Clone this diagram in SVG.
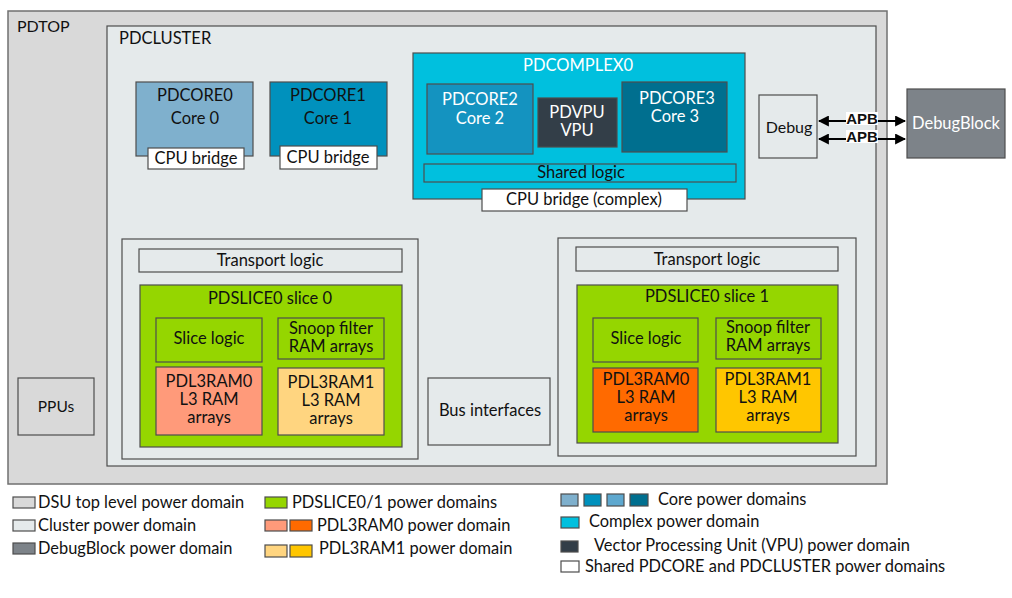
<svg xmlns="http://www.w3.org/2000/svg" width="1012" height="598" viewBox="0 0 1012 598">
<defs>
<marker id="ah" viewBox="0 0 10 10" refX="9" refY="5" markerWidth="5" markerHeight="5" orient="auto-start-reverse" markerUnits="strokeWidth">
<path d="M0,0 L10,5 L0,10 z" fill="#000"/>
</marker>
</defs>
<style>
text{font-family:Lato,"Open Sans","Liberation Sans",sans-serif;fill:#111;}
.b{stroke:#4d4d4d;stroke-width:1.2;}
.c{text-anchor:middle;}
.t16{font-size:16.5px;}
.t15{font-size:16.5px;}
.w{fill:#fff;}
.lg{font-size:16.4px;}
.apb{font-family:"Liberation Sans",Arial,sans-serif;font-weight:bold;font-size:15px;text-anchor:middle;}
</style>
<rect width="1012" height="598" fill="#fff"/>
<g id="pdtop"><rect x="8" y="11" width="879" height="473" fill="#d9d9d9" stroke="#707070" stroke-width="1.5"/><text x="17" y="32" style="font-size:16px">PDTOP</text></g>
<g id="pdcluster"><rect x="107" y="26" width="769" height="440" fill="#e5eaeb" class="b"/><text x="119" y="44" class="t16">PDCLUSTER</text></g>
<g id="pdcore0"><rect x="136" y="82" width="117" height="74" fill="#7fb0cd" class="b"/><text x="195" y="101" class="c t16">PDCORE0</text><text x="195" y="124" class="c t16">Core 0</text>
<rect x="148" y="148" width="96" height="21" fill="#fff" class="b"/><text x="196" y="164" class="c t15">CPU bridge</text></g>
<g id="pdcore1"><rect x="270" y="82" width="117" height="74" fill="#0091bd" class="b"/><text x="328" y="101" class="c t16">PDCORE1</text><text x="328" y="124" class="c t16">Core 1</text>
<rect x="280" y="146" width="97" height="23" fill="#fff" class="b"/><text x="328" y="163" class="c t15">CPU bridge</text></g>
<g id="pdcomplex0"><rect x="413" y="53" width="332" height="146" fill="#00c0de" class="b"/><text x="578" y="71" class="c t16 w">PDCOMPLEX0</text>
<rect x="424" y="164" width="312" height="18" fill="#00c0de" class="b"/><text x="581" y="178" class="c t16">Shared logic</text>
<rect x="482" y="189" width="205" height="22" fill="#fff" class="b"/><text x="584" y="205" class="c t16">CPU bridge (complex)</text></g>
<g id="pdcore2"><rect x="427" y="84" width="106" height="70" fill="#1493c0" class="b"/><text x="480" y="105" class="c t16 w">PDCORE2</text><text x="480" y="124" class="c t16 w">Core 2</text></g>
<g id="pdvpu"><rect x="538" y="98" width="79" height="49" fill="#333e48" class="b"/><text x="577" y="118" class="c t16 w">PDVPU</text><text x="577" y="136" class="c t16 w">VPU</text></g>
<g id="pdcore3"><rect x="622" y="82" width="105" height="70" fill="#006f8f" class="b"/><text x="677" y="104" class="c t16 w">PDCORE3</text><text x="675" y="122" class="c t16 w">Core 3</text></g>
<g id="debug"><rect x="759" y="95" width="58" height="63" fill="#e5eaeb" class="b"/><text x="789" y="133" class="c" style="font-size:16px">Debug</text></g>
<g id="debugblock"><rect x="907" y="89" width="98" height="69" fill="#7d8389" class="b"/><text x="956" y="129" class="c t16 w">DebugBlock</text></g>
<g id="connectors">
<line x1="819" y1="121" x2="905" y2="121" stroke="#000" stroke-width="2.2" marker-start="url(#ah)" marker-end="url(#ah)"/>
<line x1="819" y1="139" x2="905" y2="139" stroke="#000" stroke-width="2.2" marker-start="url(#ah)" marker-end="url(#ah)"/>
<rect x="846" y="112" width="32" height="13" fill="#fff"/><text x="862" y="124" class="apb">APB</text>
<rect x="846" y="130" width="32" height="13" fill="#fff"/><text x="862" y="142" class="apb">APB</text>
</g>
<g id="slice0">
<rect x="122" y="239" width="296" height="220" fill="#e5eaeb" class="b"/>
<rect x="139" y="249" width="263" height="23" fill="#e5eaeb" class="b"/><text x="270" y="266" class="c t15">Transport logic</text>
<rect x="140" y="285" width="262" height="162" fill="#95d600" class="b"/><text x="270" y="304" class="c t16">PDSLICE0 slice 0</text>
<rect x="156" y="318" width="106" height="44" fill="#95d600" class="b"/><text x="209" y="344" class="c t16">Slice logic</text>
<rect x="278" y="318" width="106" height="41" fill="#95d600" class="b"/><text x="331" y="334" class="c t16">Snoop filter</text><text x="331" y="352" class="c t16">RAM arrays</text>
<rect x="156" y="367" width="106" height="68" fill="#ff9a7a" class="b"/><text x="209" y="387" class="c t16">PDL3RAM0</text><text x="209" y="405" class="c t16">L3 RAM</text><text x="209" y="423" class="c t16">arrays</text>
<rect x="278" y="368" width="106" height="67" fill="#ffd580" class="b"/><text x="331" y="388" class="c t16">PDL3RAM1</text><text x="331" y="406" class="c t16">L3 RAM</text><text x="331" y="424" class="c t16">arrays</text>
</g>
<g id="slice1">
<rect x="558" y="238" width="298" height="218" fill="#e5eaeb" class="b"/>
<rect x="576" y="247" width="262" height="24" fill="#e5eaeb" class="b"/><text x="707" y="265" class="c t15">Transport logic</text>
<rect x="577" y="285" width="261" height="158" fill="#95d600" class="b"/><text x="707" y="302" class="c t16">PDSLICE0 slice 1</text>
<rect x="593" y="318" width="105" height="44" fill="#95d600" class="b"/><text x="646" y="344" class="c t16">Slice logic</text>
<rect x="716" y="318" width="105" height="41" fill="#95d600" class="b"/><text x="768" y="333" class="c t16">Snoop filter</text><text x="768" y="351" class="c t16">RAM arrays</text>
<rect x="593" y="368" width="105" height="64" fill="#ff6a00" class="b"/><text x="646" y="385" class="c t16">PDL3RAM0</text><text x="646" y="403" class="c t16">L3 RAM</text><text x="646" y="421" class="c t16">arrays</text>
<rect x="716" y="368" width="105" height="64" fill="#ffc600" class="b"/><text x="768" y="385" class="c t16">PDL3RAM1</text><text x="768" y="403" class="c t16">L3 RAM</text><text x="768" y="421" class="c t16">arrays</text>
</g>
<g id="ppus"><rect x="18" y="378" width="76" height="57" fill="#d9d9d9" class="b"/><text x="56" y="412" class="c" style="font-size:15.5px">PPUs</text></g>
<g id="bus"><rect x="428" y="378" width="122" height="67" fill="#e5eaeb" class="b"/><text x="490" y="416" class="c t15">Bus interfaces</text></g>
<g id="legend">
<rect x="13" y="497" width="22" height="11" fill="#d9d9d9" class="b"/><text x="38" y="508" class="lg">DSU top level power domain</text>
<rect x="13" y="520" width="22" height="11" fill="#e5eaeb" class="b"/><text x="38" y="531" class="lg">Cluster power domain</text>
<rect x="13" y="543" width="22" height="11" fill="#7d8389" class="b"/><text x="38" y="554" class="lg">DebugBlock power domain</text>
<rect x="265" y="497" width="22" height="11" fill="#95d600" class="b"/><text x="292" y="508" class="lg">PDSLICE0/1 power domains</text>
<rect x="265" y="520" width="22" height="11" fill="#ff9a7a" class="b"/><rect x="290" y="520" width="22" height="11" fill="#ff6a00" class="b"/><text x="317" y="531" class="lg">PDL3RAM0 power domain</text>
<rect x="265" y="545" width="22" height="12" fill="#ffd580" class="b"/><rect x="290" y="545" width="22" height="12" fill="#ffc600" class="b"/><text x="319" y="554" class="lg">PDL3RAM1 power domain</text>
<rect x="561" y="494" width="17" height="12" fill="#7fb0cd" class="b"/><rect x="584" y="494" width="17" height="12" fill="#0091bd" class="b"/><rect x="607" y="494" width="17" height="12" fill="#5ea8cf" class="b"/><rect x="630" y="494" width="18" height="12" fill="#006f8f" class="b"/><text x="658" y="505" class="lg">Core power domains</text>
<rect x="561" y="517" width="18" height="11" fill="#00c0de" class="b"/><text x="589" y="527" class="lg">Complex power domain</text>
<rect x="561" y="541" width="17" height="11" fill="#333e48" class="b"/><text x="594" y="551" class="lg">Vector Processing Unit (VPU) power domain</text>
<rect x="561" y="561" width="18" height="11" fill="#fff" class="b"/><text x="585" y="572" class="lg">Shared PDCORE and PDCLUSTER power domains</text>
</g>
</svg>
